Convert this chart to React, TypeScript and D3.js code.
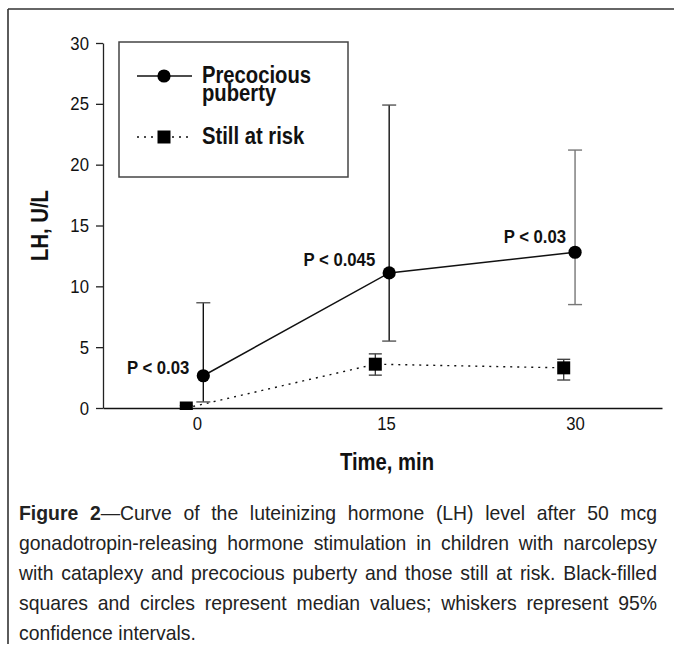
import React, { useEffect, useRef } from "react";
import * as d3 from "d3";

// ---- data ----
const timeTicks = [0, 15, 30];
const yTicks = [0, 5, 10, 15, 20, 25, 30];

const ppTime = [0.5, 15.25, 30];
const ppMedian = [2.65, 11.1, 12.8];
const ppLow = [0.5, 5.5, 8.5];
const ppHigh = [8.65, 24.9, 21.2];

const riskTime = [-0.85, 14.15, 29.1];
const riskMedian = [0, 3.6, 3.3];
const riskLow = [-0.1, 2.7, 2.3];
const riskHigh = [0.2, 4.45, 4.0];

const pLabels = ["P < 0.03", "P < 0.045", "P < 0.03"];
const seriesNames = ["Precocious", "puberty", "Still at risk"];
const xTitle = "Time, min";
const yTitle = "LH, U/L";

// caption: each line is a list of words; each word is a list of [text, bold]
const captionLines: [string, boolean][][][] = [
  [[["Figure", true]], [["2", true], ["—Curve", false]], [["of", false]], [["the", false]], [["luteinizing", false]], [["hormone", false]], [["(LH)", false]], [["level", false]], [["after", false]], [["50", false]], [["mcg", false]]],
  "gonadotropin-releasing hormone stimulation in children with narcolepsy".split(" ").map((w) => [[w, false]] as [string, boolean][]),
  "with cataplexy and precocious puberty and those still at risk. Black-filled".split(" ").map((w) => [[w, false]] as [string, boolean][]),
  "squares and circles represent median values; whiskers represent 95%".split(" ").map((w) => [[w, false]] as [string, boolean][]),
  "confidence intervals.".split(" ").map((w) => [[w, false]] as [string, boolean][]),
];

const FONT = "'Liberation Sans', Arial, sans-serif";
const SQZ = 0.88; // horizontal condensing to mimic a narrow face
const CAP_SQZ = 0.97;

export default function App() {
  const ref = useRef<SVGSVGElement>(null);

  useEffect(() => {
    const svg = d3.select(ref.current);
    svg.selectAll("*").remove();

    const x = d3.scaleLinear().domain([-7.46, 36.9]).range([103, 662]);
    const y = d3.scaleLinear().domain([0, 30]).range([408, 43]);

    const addText = (
      parent: d3.Selection<any, unknown, null, undefined>,
      tx: number, ty: number, txt: string, size: number, bold: boolean, anchor = "start", rotate = 0, fill = "#111"
    ) =>
      parent.append("text")
        .attr("transform", `translate(${tx},${ty}) rotate(${rotate}) scale(${SQZ},1)`)
        .attr("text-anchor", anchor).attr("font-family", FONT).attr("font-size", size)
        .attr("font-weight", bold ? "bold" : "normal").attr("fill", fill).text(txt);

    // outer frame
    svg.append("line").attr("x1", 8).attr("x2", 674).attr("y1", 9).attr("y2", 9).attr("stroke", "#333").attr("stroke-width", 1.6);
    svg.append("line").attr("x1", 8).attr("x2", 8).attr("y1", 9).attr("y2", 644).attr("stroke", "#333").attr("stroke-width", 1.6);

    // y axis
    const yAxis = d3.axisLeft(y).tickValues(yTicks).tickSize(7).tickSizeOuter(0).tickPadding(9).tickFormat(d3.format("d"));
    const gy = svg.append("g").attr("transform", `translate(${x(-7.46)},0)`).call(yAxis);
    gy.select(".domain").attr("stroke", "#222").attr("stroke-width", 1.3);
    gy.selectAll(".tick line").attr("stroke", "#222").attr("stroke-width", 1.3);
    gy.selectAll(".tick text").attr("font-family", FONT).attr("font-size", 19).attr("fill", "#111").attr("transform", `scale(${SQZ},1)`);

    // x axis
    const xAxis = d3.axisBottom(x).tickValues(timeTicks).tickSize(0).tickSizeOuter(0).tickPadding(9).tickFormat(d3.format("d"));
    const gx = svg.append("g").attr("transform", `translate(0,${y(0)})`).call(xAxis);
    gx.select(".domain").attr("stroke", "#111").attr("stroke-width", 1.6);
    gx.selectAll(".tick text").attr("font-family", FONT).attr("font-size", 19).attr("fill", "#111").attr("transform", `scale(${SQZ},1)`);

    // titles
    addText(svg, 387, 470, xTitle, 23, true, "middle");
    addText(svg, 48, y(15), yTitle, 23, true, "middle", -90);

    // clip
    svg.append("clipPath").attr("id", "plotclip").append("rect").attr("x", 104).attr("y", 20).attr("width", 560).attr("height", 390);
    const plot = svg.append("g").attr("clip-path", "url(#plotclip)");

    // risk dotted line
    const riskPts = riskTime.map((t, i) => [x(t), y(riskMedian[i])] as [number, number]);
    plot.append("path").attr("d", d3.line()(riskPts)).attr("fill", "none").attr("stroke", "#111")
      .attr("stroke-width", 1.4).attr("stroke-dasharray", "2,5");

    // pp solid line
    const ppPts = ppTime.map((t, i) => [x(t), y(ppMedian[i])] as [number, number]);
    plot.append("path").attr("d", d3.line()(ppPts)).attr("fill", "none").attr("stroke", "#111").attr("stroke-width", 1.5);

    // error bars
    const ppBarColors = ["#111", "#111", "#777"];
    ppTime.forEach((t, i) => {
      const cx = x(t);
      const col = ppBarColors[i];
      plot.append("line").attr("x1", cx).attr("x2", cx).attr("y1", y(ppLow[i])).attr("y2", y(ppHigh[i])).attr("stroke", col).attr("stroke-width", 1.4);
      [ppLow[i], ppHigh[i]].forEach((v) => {
        plot.append("line").attr("x1", cx - 7).attr("x2", cx + 7).attr("y1", y(v)).attr("y2", y(v)).attr("stroke", i === 2 ? col : "#555").attr("stroke-width", 1.4);
      });
    });
    riskTime.forEach((t, i) => {
      const cx = x(t);
      plot.append("line").attr("x1", cx).attr("x2", cx).attr("y1", y(riskLow[i])).attr("y2", y(riskHigh[i])).attr("stroke", "#333").attr("stroke-width", 1.3);
      [riskLow[i], riskHigh[i]].forEach((v) => {
        plot.append("line").attr("x1", cx - 6.5).attr("x2", cx + 6.5).attr("y1", y(v)).attr("y2", y(v)).attr("stroke", "#444").attr("stroke-width", 1.4);
      });
    });

    // markers
    const sq = d3.symbol().type(d3.symbolSquare).size(169);
    riskTime.forEach((t, i) => {
      plot.append("path").attr("d", sq()).attr("transform", `translate(${x(t)},${y(riskMedian[i])})`).attr("fill", "#000");
    });
    ppTime.forEach((t, i) => {
      plot.append("circle").attr("cx", x(t)).attr("cy", y(ppMedian[i])).attr("r", 6.6).attr("fill", "#000");
    });

    // p labels
    const pOffsets: [number, number][] = [[-14, -2], [-14, -7], [-9, -9]];
    pLabels.forEach((lab, i) => {
      addText(svg, x(ppTime[i]) + pOffsets[i][0], y(ppMedian[i]) + pOffsets[i][1], lab, 19, true, "end");
    });

    // legend
    svg.append("rect").attr("x", 119).attr("y", 42).attr("width", 229).attr("height", 135).attr("fill", "#fff").attr("stroke", "#444").attr("stroke-width", 1.5);
    svg.append("line").attr("x1", 137).attr("x2", 192).attr("y1", 76).attr("y2", 76).attr("stroke", "#111").attr("stroke-width", 1.5);
    svg.append("circle").attr("cx", 164).attr("cy", 76).attr("r", 6.6).attr("fill", "#000");
    svg.append("line").attr("x1", 137).attr("x2", 192).attr("y1", 137).attr("y2", 137).attr("stroke", "#111").attr("stroke-width", 1.4).attr("stroke-dasharray", "2,5");
    svg.append("path").attr("d", sq()).attr("transform", "translate(164,137)").attr("fill", "#000");
    const legPos: [number, number][] = [[202, 83], [202, 101], [202, 144]];
    seriesNames.forEach((t, i) => addText(svg, legPos[i][0], legPos[i][1], t, 23, true));

    // caption (justified)
    const left = 19, right = 657;
    const baselines = [520, 550, 580, 610, 640];
    captionLines.forEach((words, li) => {
      const nodes = words.map((segs) => {
        const t = svg.append("text").attr("font-family", FONT).attr("font-size", 20).attr("fill", "#222");
        segs.forEach(([s, b]) => {
          t.append("tspan").attr("font-weight", b ? "bold" : "normal").text(s);
        });
        return t;
      });
      const widths = nodes.map((n) => (n.node() as SVGTextElement).getComputedTextLength() * CAP_SQZ);
      const total = d3.sum(widths);
      const justify = li < captionLines.length - 1;
      const gap = justify ? (right - left - total) / (words.length - 1) : 5.5;
      let cx = left;
      nodes.forEach((n, i) => {
        n.attr("transform", `translate(${cx},${baselines[li]}) scale(${CAP_SQZ},1)`);
        cx += widths[i] + gap;
      });
    });
  }, []);

  return (
    <svg ref={ref} width={674} height={659} style={{ position: "absolute", left: 0, top: 0, background: "#fff" }} />
  );
}
